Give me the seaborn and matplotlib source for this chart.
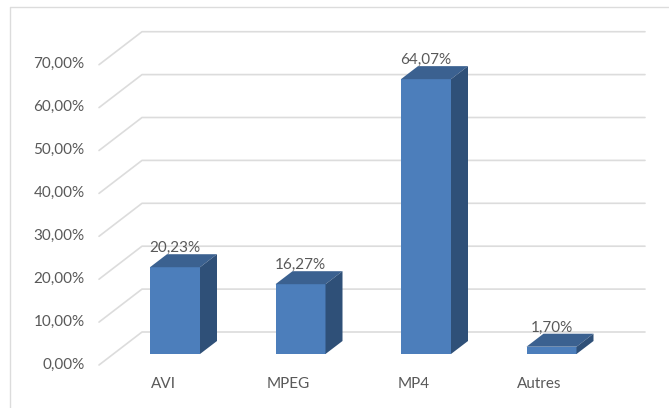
import matplotlib
matplotlib.use('Agg')
import matplotlib.pyplot as plt
from matplotlib.lines import Line2D
from matplotlib.transforms import ScaledTranslation
import pandas as pd
import seaborn as sns

formats = ['AVI', 'MPEG', 'MP4', 'Autres']
shares = [20.23, 16.27, 64.07, 1.70]
share_labels = ['20,23%', '16,27%', '64,07%', '1,70%']
grid_values = [0, 10, 20, 30, 40, 50, 60, 70]
grid_labels = ['0,00%', '10,00%', '20,00%', '30,00%', '40,00%', '50,00%', '60,00%', '70,00%']

WIDTH, HEIGHT = 669, 408
PX_PER_CAT = 125.5
PX_PER_PCT = 4.29
TEXT = '#595959'
GRID = '#dcdcdc'
FRONT = '#4c7ebb'
TOP = '#3b6190'
SIDE = '#2f5078'

sns.set_style('white')
plt.rcParams['font.family'] = ['Lato', 'DejaVu Sans']
plt.rcParams['font.size'] = 11

fig = plt.figure(figsize=(WIDTH / 100, HEIGHT / 100), dpi=100)
# axes: x from px 100 to the right edge, y=0 sits on the bar base (py 354)
ax = fig.add_axes([100 / WIDTH, (HEIGHT - 354) / HEIGHT, (WIDTH - 100) / WIDTH, 334 / HEIGHT])

df = pd.DataFrame({'format': formats, 'share': shares})
sns.barplot(data=df, x='format', y='share', color=FRONT, saturation=1, width=50 / PX_PER_CAT,
            edgecolor='none', linewidth=0, ax=ax, zorder=3)
ax.set_xlim((100 - 175) / PX_PER_CAT, (WIDTH - 175) / PX_PER_CAT)
ax.set_ylim(0, 334 / PX_PER_PCT)
ax.set_xlabel('')
ax.set_ylabel('')
sns.despine(ax=ax, left=True, bottom=True)

# fake 3D walls: back gridlines plus the diagonals on the floor/side wall
back_x0 = (142 - 175) / PX_PER_CAT
back_x1 = (645 - 175) / PX_PER_CAT
front_x = (99 - 175) / PX_PER_CAT
back_up = 22 / PX_PER_PCT
front_down = 11 / PX_PER_PCT
for v in grid_values:
    ax.plot([front_x, back_x0, back_x1], [v - front_down, v + back_up, v + back_up],
            color=GRID, lw=1.2, clip_on=False, zorder=1)

# depth of each bar, in data units
dx = 17 / PX_PER_CAT
dy = 13 / PX_PER_PCT
for bar, value, label in zip(ax.patches, shares, share_labels):
    x0 = bar.get_x()
    x1 = x0 + bar.get_width()
    ax.fill([x0, x1, x1 + dx, x0 + dx], [value, value, value + dy, value + dy], color=TOP, lw=0, clip_on=False, zorder=3)
    ax.fill([x1, x1 + dx, x1 + dx, x1], [0, dy, value + dy, value], color=SIDE, lw=0, clip_on=False, zorder=3)
    ax.annotate(label, ((x0 + x1) / 2, value), xytext=(0, 19 * 0.72), textcoords='offset points',
                ha='center', va='center', color=TEXT, zorder=5, annotation_clip=False)

ax.set_yticks(grid_values, grid_labels)
ax.tick_params(axis='y', length=0, pad=11, labelcolor=TEXT)
ax.tick_params(axis='x', length=0, pad=16.5, labelcolor=TEXT)
for lab in ax.get_yticklabels():
    lab.set_transform(lab.get_transform() + ScaledTranslation(0, -9 / 100, fig.dpi_scale_trans))
for lab in ax.get_xticklabels():
    lab.set_transform(lab.get_transform() + ScaledTranslation(-12 / 100, 0, fig.dpi_scale_trans))

# chart frame, only left and top show in the crop
fig.add_artist(Line2D([10 / WIDTH, 10 / WIDTH, 1], [0, 1 - 7 / HEIGHT, 1 - 7 / HEIGHT], color=GRID, lw=1))

fig.savefig('out.png', dpi=100)
